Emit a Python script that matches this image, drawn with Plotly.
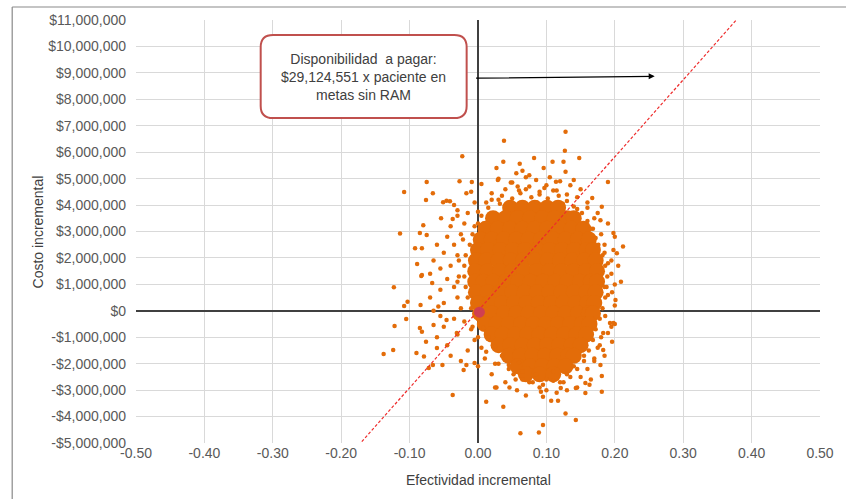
import plotly.graph_objects as go

# ---------------- data (effect, cost in millions of pesos) ----------------
wtp = 29124551  # disponibilidad a pagar por paciente en metas sin RAM

x_ticks = [-0.5, -0.4, -0.3, -0.2, -0.1, 0.0, 0.1, 0.2, 0.3, 0.4, 0.5]
y_ticks_m = list(range(-5, 12))

# dense core of the simulation cloud: cost level (M) -> effects
core_cost_levels = [3.9, 3.5, 3.1, 2.7, 2.3, 1.9, 1.5, 1.1, 0.7, 0.3, -0.1, -0.5, -0.9, -1.3, -1.7, -2.1, -2.4]
core_effects_by_level = [
    [0.047, 0.065, 0.083, 0.101, 0.117],
    [0.022, 0.04, 0.058, 0.076, 0.094, 0.112, 0.13, 0.14],
    [0.011, 0.029, 0.047, 0.065, 0.083, 0.101, 0.119, 0.137, 0.154],
    [0.004, 0.02, 0.038, 0.056, 0.074, 0.092, 0.11, 0.128, 0.146, 0.162],
    [0.0, 0.015, 0.033, 0.051, 0.069, 0.087, 0.105, 0.123, 0.141, 0.159, 0.168],
    [-0.003, 0.012, 0.03, 0.048, 0.066, 0.084, 0.102, 0.12, 0.138, 0.156, 0.172],
    [-0.004, 0.014, 0.032, 0.05, 0.068, 0.086, 0.104, 0.122, 0.14, 0.158, 0.174],
    [-0.004, 0.008, 0.023, 0.041, 0.059, 0.077, 0.095, 0.113, 0.131, 0.149, 0.165, 0.174],
    [-0.003, 0.014, 0.032, 0.05, 0.068, 0.086, 0.104, 0.122, 0.14, 0.158, 0.172],
    [0.0, 0.017, 0.035, 0.053, 0.071, 0.089, 0.107, 0.125, 0.143, 0.16, 0.17],
    [0.003, 0.02, 0.038, 0.056, 0.074, 0.092, 0.11, 0.128, 0.146, 0.162, 0.168],
    [0.01, 0.027, 0.045, 0.063, 0.081, 0.099, 0.117, 0.135, 0.152, 0.163],
    [0.02, 0.036, 0.054, 0.072, 0.09, 0.108, 0.126, 0.144, 0.158],
    [0.03, 0.047, 0.065, 0.083, 0.101, 0.119, 0.137, 0.15],
    [0.045, 0.062, 0.08, 0.098, 0.116, 0.132, 0.14],
    [0.058, 0.076, 0.094, 0.112, 0.128],
    [0.07, 0.09, 0.11],
]

# points just outside the dense core
edge_effect = [
    0.02, 0.035, 0.05, 0.062, 0.078, 0.09, 0.102, 0.118, 0.13, 0.14, 0.015, 0.005, 0.07, 0.11,
    0.152, 0.16, 0.168, 0.172, 0.145,
    0.176, 0.182, 0.186, 0.189, 0.188, 0.186, 0.182, 0.178, 0.195, 0.196,
    0.172, 0.168, 0.162, 0.155, 0.145, 0.135, 0.178, 0.17,
    0.125, 0.11, 0.095, 0.08, 0.065, 0.052, 0.045, 0.1, 0.085,
    0.035, 0.025, 0.015, 0.008, 0.0, -0.008, 0.0, 0.012, 0.025,
    -0.01, -0.015, -0.018, -0.02, -0.02, -0.018, -0.012, -0.008, 0.0, -0.03, -0.028, -0.022, -0.005,
    0.032, 0.058, 0.086, 0.124, 0.048, 0.097,
]
edge_cost_m = [
    4.2, 4.35, 4.25, 4.45, 4.3, 4.4, 4.25, 4.35, 4.15, 3.95, 3.9, 3.6, 4.6, 4.55,
    3.7, 3.4, 3.1, 2.75, 3.85,
    2.5, 2.1, 1.7, 1.3, 0.9, 0.5, 0.1, -0.3, 1.9, 0.7,
    -0.7, -1.1, -1.5, -1.9, -2.2, -2.5, -1.3, -1.9,
    -2.7, -2.65, -2.8, -2.7, -2.6, -2.4, -2.05, -3.0, -2.55,
    -1.7, -1.35, -1.0, -0.65, -0.3, -0.6, -1.0, -1.55, -2.0,
    0.1, 0.5, 0.9, 1.3, 1.7, 2.1, 2.5, 2.9, 3.3, 1.1, 1.9, 2.7, 3.2,
    4.05, 4.7, 4.1, 4.05, 4.85, 4.65,
]

# medium-density ring around the core
ring_effect = [
    -0.01, 0.005, 0.02, 0.03, 0.04, 0.05, 0.06, 0.07, 0.075, 0.085, 0.09, 0.1, 0.105, 0.115, 0.12, 0.13, 0.135, 0.145, 0.15, 0.16,
    0.16, 0.17, 0.165, 0.18, 0.175, 0.185, 0.19, 0.2,
    0.185, 0.19, 0.195, 0.2, 0.19, 0.2, 0.186, 0.195, 0.185, 0.205, 0.198,
    0.18, 0.175, 0.17, 0.16, 0.165, 0.15, 0.14, 0.145, 0.185, 0.155,
    0.13, 0.12, 0.11, 0.1, 0.09, 0.085, 0.075, 0.065, 0.055, 0.045, 0.04, 0.03, 0.02, 0.01, 0.115, 0.07, 0.13, 0.025, 0.06, 0.0,
    0.005, -0.005, -0.01, -0.02, -0.015, -0.03, -0.035, -0.045, -0.025, -0.05, -0.06, -0.04,
    -0.025, -0.03, -0.035, -0.028, -0.04, -0.03, -0.035, -0.025, -0.02, -0.015, -0.005, -0.05, -0.055, -0.045, -0.055, -0.05,
    -0.045, -0.04, -0.065, -0.07, -0.07, -0.065, -0.06, -0.055, -0.03, -0.035,
    0.0, 0.012, 0.03,
]
ring_cost_m = [
    4.5, 4.8, 4.45, 5.0, 4.6, 4.85, 4.55, 5.05, 4.7, 4.95, 4.5, 4.75, 5.05, 4.55, 4.9, 4.4, 4.75, 4.3, 4.6, 4.1,
    3.9, 3.5, 3.1, 2.9, 3.7, 2.5, 3.3, 2.8,
    2.2, 1.8, 1.4, 1.0, 0.6, 0.2, -0.2, -0.6, 0.9, 1.7, 2.3,
    -1.0, -1.4, -1.8, -2.2, -2.6, -2.5, -2.1, -2.9, -1.7, -1.7,
    -2.4, -2.7, -2.3, -2.6, -2.9, -2.4, -2.7, -2.3, -2.6, -2.2, -2.7, -2.0, -2.4, -1.8, -3.1, -3.2, -3.0, -2.9, -1.95, -2.1,
    -1.4, -1.1, -0.7, -0.4, -1.5, -0.9, -0.3, -1.3, -1.9, -0.6, -1.0, -1.7,
    0.1, 0.5, 0.9, 1.3, 1.7, 2.1, 2.5, 2.9, 3.3, 3.7, 4.1, 0.3, 0.8, 1.2, 1.6, 2.2,
    2.8, 3.2, 0.0, 0.5, 1.4, 1.9, 2.5, -0.2, 3.6, 4.0,
    3.75, 4.1, 4.2,
]

# scattered outer simulations
outer_effect = [
    -0.023, -0.075, -0.108, -0.114, -0.076, -0.066, -0.027, -0.009, -0.046, -0.051, -0.041, -0.054, -0.037, -0.080,
    -0.085, -0.075, -0.092, -0.082, -0.089, -0.083, -0.03, -0.017,
    0.128, 0.038, 0.127, 0.082, 0.148, 0.109, 0.125, 0.037, 0.061, 0.096, 0.128, 0.19, 0.181, 0.179, 0.198, 0.212,
    0.203, 0.167, 0.027, 0.029, 0.056, 0.065, 0.075, 0.14, 0.114,
    -0.123, -0.103, -0.108, -0.105, -0.122, -0.138, -0.124, -0.09, -0.076, -0.037, 0.012, -0.072, -0.066, -0.052,
    -0.079, -0.06, -0.085, -0.082, -0.065, -0.031, -0.021, -0.017, -0.005, -0.082, -0.067, -0.058, -0.084, -0.046,
    0.209, 0.201, 0.2, 0.196, 0.183, 0.181, 0.181, 0.179, 0.157, 0.143, 0.128, 0.117, 0.107, 0.095, 0.089, 0.062,
    0.037, 0.095, 0.092, 0.027, 0.046, 0.057, 0.121, 0.143, 0.157, 0.163, 0.183, 0.19, 0.193, 0.198,
]
outer_cost_m = [
    5.85, 4.87, 4.49, 2.92, 4.19, 4.45, 4.9, 4.87, 4.16, 4.11, 4.14, 3.5, 3.47, 3.24,
    2.94, 2.87, 2.37, 2.37, 1.77, 1.32, 3.8, 4.45,
    6.77, 6.43, 6.05, 5.78, 5.78, 5.64, 5.64, 5.64, 5.56, 5.4, 5.26, 4.87, 3.94, 3.43, 2.94, 2.43,
    2.18, 4.27, 5.4, 4.95, 5.2, 5.3, 5.13, 4.95, 4.88,
    0.89, 0.34, 0.18, -0.31, -0.57, -1.63, -1.48, -1.6, -1.17, -3.18, -3.44, -2.16, -2.05, -2.05,
    -1.73, -1.41, -0.65, -0.79, -0.54, -0.84, -2.24, -2.05, -1.97, 1.35, 1.05, 0.16, 0.22, -0.35,
    1.1, 0.41, -0.5, -1.17, -1.48, -2.47, -3.06, -2.05, -3.11, -4.13, -3.88, -3.4, -3.4, -4.32, -4.6, -4.63,
    -3.63, -3.25, -3.06, -2.9, -2.9, -3.0, -2.92, -2.92, -2.73, -2.8, -0.84, -0.84, -0.46, -0.46,
]

# mean of the simulations
mean_effect = [0.002]
mean_cost_m = [-0.05]

wtp_line_effect = [-0.5, 0.5]

# ---------------- figure ----------------
M = 1_000_000
orange = "#e36c09"

core_x, core_y = [], []
for lvl, xs in zip(core_cost_levels, core_effects_by_level):
    for xv in xs:
        core_x.append(xv)
        core_y.append(lvl * M)

fig = go.Figure()
fig.add_trace(go.Scatter(x=core_x, y=core_y, mode="markers",
                         marker=dict(size=16, color=orange, line=dict(width=0)),
                         hoverinfo="skip", showlegend=False))
for ex, ey in [(edge_effect, edge_cost_m), (ring_effect, ring_cost_m), (outer_effect, outer_cost_m)]:
    fig.add_trace(go.Scatter(x=ex, y=[v * M for v in ey], mode="markers",
                             marker=dict(size=4.5, color=orange, line=dict(width=0)), showlegend=False))
fig.add_trace(go.Scatter(x=wtp_line_effect, y=[wtp * v for v in wtp_line_effect], mode="lines",
                         line=dict(color="#ee2b2b", width=1.2, dash="3px,2px"), showlegend=False))
fig.add_trace(go.Scatter(x=mean_effect, y=[v * M for v in mean_cost_m], mode="markers",
                         marker=dict(size=11, color="rgba(205,60,90,0.9)", line=dict(width=0)),
                         showlegend=False))

font_fam = "Arial, Liberation Sans, sans-serif"

# rounded call-out box (data coordinates)
bx0, bx1 = -0.3177, -0.0166
by0, by1 = 7.29 * M, 10.43 * M
rx, ry = 0.018, 0.46 * M
path = (f"M {bx0+rx},{by1} L {bx1-rx},{by1} Q {bx1},{by1} {bx1},{by1-ry} "
        f"L {bx1},{by0+ry} Q {bx1},{by0} {bx1-rx},{by0} L {bx0+rx},{by0} "
        f"Q {bx0},{by0} {bx0},{by0+ry} L {bx0},{by1-ry} Q {bx0},{by1} {bx0+rx},{by1} Z")

fig.update_layout(
    width=846, height=499,
    margin=dict(l=136, r=19, t=19, b=56),
    paper_bgcolor="white", plot_bgcolor="white",
    font=dict(family=font_fam, size=14, color="#595959"),
    xaxis=dict(range=[-0.5, 0.5], tickvals=x_ticks, ticktext=[f"{v:.2f}" for v in x_ticks],
               showgrid=True, gridcolor="#d9d9d9", gridwidth=1,
               zeroline=True, zerolinecolor="#404040", zerolinewidth=1.5,
               showline=False, ticks="", tickfont=dict(size=14, color="#595959")),
    yaxis=dict(range=[-5 * M, 11 * M], tickvals=[v * M for v in y_ticks_m],
               ticktext=[("-$" if v < 0 else "$") + f"{abs(v) * M:,.0f}" for v in y_ticks_m],
               showgrid=True, gridcolor="#d9d9d9", gridwidth=1,
               zeroline=True, zerolinecolor="#404040", zerolinewidth=1.5,
               showline=False, ticks="", ticklabelstandoff=9,
               tickfont=dict(size=14, color="#595959")),
    shapes=[
        dict(type="path", path=path, xref="x", yref="y",
             line=dict(color="#c0504d", width=2), fillcolor="white", layer="above"),
        dict(type="line", xref="paper", yref="paper", x0=-0.181, x1=-0.181, y0=-0.3, y1=1.0307,
             line=dict(color="#898989", width=1.2)),
        dict(type="line", xref="paper", yref="paper", x0=-0.181, x1=1.2, y0=1.0307, y1=1.0307,
             line=dict(color="#898989", width=1.2)),
    ],
    annotations=[
        dict(x=-0.1672, y=8.86 * M, xref="x", yref="y", showarrow=False,
             text="Disponibilidad  a pagar:<br>$29,124,551 x paciente en<br>metas sin RAM",
             font=dict(size=14, color="#404040", family=font_fam), align="center"),
        dict(x=0.2583, y=8.87 * M, ax=-0.005, ay=8.80 * M, xref="x", yref="y",
             axref="x", ayref="y", showarrow=True, arrowhead=2, arrowsize=1,
             arrowwidth=1.2, arrowcolor="#000000", text=""),
        dict(x=0.5, y=-0.0873, xref="paper", yref="paper", showarrow=False,
             text="Efectividad incremental", font=dict(size=14, color="#404040"),
             xanchor="center", yanchor="middle"),
        dict(x=-0.1433, y=0.5, xref="paper", yref="paper", showarrow=False,
             text="Costo incremental", textangle=-90, font=dict(size=14, color="#404040"),
             xanchor="center", yanchor="middle"),
    ],
)

fig.write_html("out.html")
